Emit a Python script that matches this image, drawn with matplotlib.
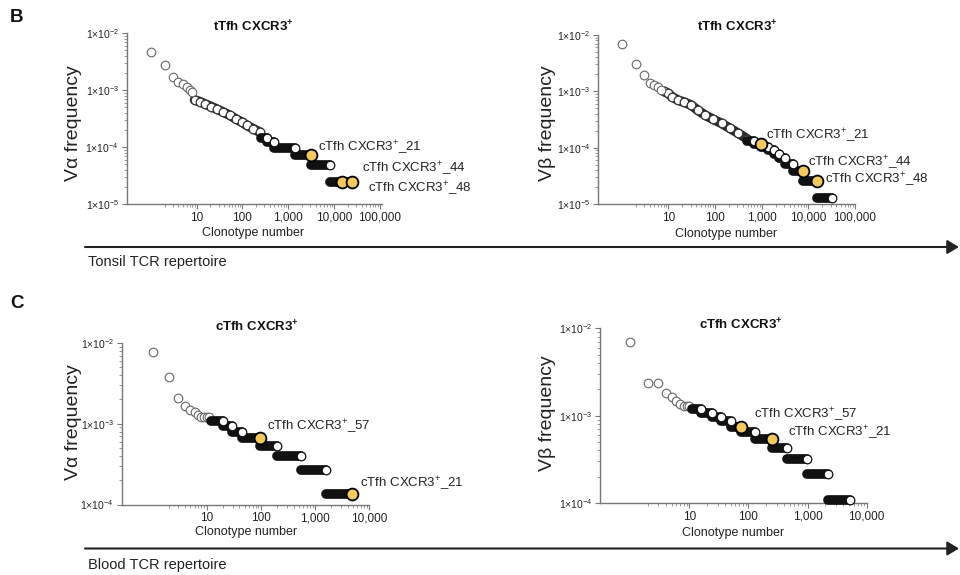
import numpy as np
import matplotlib
matplotlib.use('Agg')
import matplotlib.pyplot as plt
from matplotlib.ticker import FixedLocator, NullFormatter

plt.rcParams['font.family'] = ['Liberation Sans', 'DejaVu Sans']
plt.rcParams['mathtext.fontset'] = 'custom'
plt.rcParams['mathtext.rm'] = 'Liberation Sans'
plt.rcParams['mathtext.it'] = 'Liberation Sans:italic'
plt.rcParams['mathtext.bf'] = 'Liberation Sans:bold'

W, H = 960, 575
YELLOW = '#F3C95B'

# ---- B, left: tonsil tTfh CXCR3+, V alpha
bl_top_rank = [1, 2, 3, 4, 5, 6, 7, 8]
bl_top_freq = [4.7e-3, 2.75e-3, 1.67e-3, 1.4e-3, 1.26e-3, 1.12e-3, 1.0e-3, 9.2e-4]
bl_band_rank = [9, 12, 15, 21, 28, 38, 53, 72, 100, 124, 170, 245]
bl_band_freq = [6.7e-4, 6.2e-4, 5.7e-4, 5.1e-4, 4.6e-4, 4.1e-4, 3.6e-4, 3.1e-4, 2.7e-4, 2.4e-4, 2.1e-4, 1.8e-4]
bl_step_freq = [1.44e-4, 1.2e-4, 9.6e-5, 7.2e-5, 4.8e-5, 2.4e-5]
bl_step_first = [250, 337, 500, 1400, 3200, 8100]
bl_step_last = [337, 500, 1400, 3200, 8100, 25000]
bl_hl_rank = [3200, 14700, 25000]
bl_hl_freq = [7.2e-5, 2.4e-5, 2.4e-5]
bl_hl_label = ['21', '44', '48']

# ---- B, right: tonsil tTfh CXCR3+, V beta
br_top_rank = [1, 2, 3, 4, 5, 6, 7]
br_top_freq = [6.8e-3, 3.0e-3, 1.95e-3, 1.4e-3, 1.3e-3, 1.2e-3, 1.05e-3]
br_band_rank = [8, 10, 12, 16, 22, 31, 43, 61, 90, 139, 210, 316, 480]
br_band_freq = [1.0e-3, 9.2e-4, 8.0e-4, 7.0e-4, 6.4e-4, 5.7e-4, 4.6e-4, 3.8e-4, 3.2e-4, 2.7e-4, 2.2e-4, 1.8e-4, 1.45e-4]
br_step_freq = [1.3e-4, 1.17e-4, 1.04e-4, 9.1e-5, 7.8e-5, 6.5e-5, 5.2e-5, 3.9e-5, 2.6e-5, 1.3e-5]
br_step_first = [480, 700, 950, 1380, 1800, 2300, 3200, 4800, 7800, 15000]
br_step_last = [700, 950, 1380, 1800, 2300, 3200, 4800, 7800, 15000, 32500]
br_hl_rank = [950, 7800, 15000]
br_hl_freq = [1.17e-4, 3.9e-5, 2.6e-5]
br_hl_label = ['21', '44', '48']

# ---- C, left: blood cTfh CXCR3+, V alpha
cl_top_rank = [1, 2, 3, 4, 5, 6, 7, 8, 9, 10, 11]
cl_top_freq = [7.8e-3, 3.8e-3, 2.07e-3, 1.65e-3, 1.5e-3, 1.39e-3, 1.27e-3, 1.2e-3, 1.2e-3, 1.2e-3, 1.2e-3]
cl_step_freq = [1.07e-3, 9.3e-4, 8.0e-4, 6.7e-4, 5.3e-4, 4.0e-4, 2.67e-4, 1.33e-4]
cl_step_first = [12, 20, 29, 44, 95, 200, 560, 1600]
cl_step_last = [20, 29, 44, 95, 200, 560, 1600, 4800]
cl_hl_rank = [95, 4800]
cl_hl_freq = [6.7e-4, 1.33e-4]
cl_hl_label = ['57', '21']

# ---- C, right: blood cTfh CXCR3+, V beta
cr_top_rank = [1, 2, 3, 4, 5, 6, 7, 8, 9, 10]
cr_top_freq = [7.0e-3, 2.38e-3, 2.38e-3, 1.83e-3, 1.62e-3, 1.48e-3, 1.36e-3, 1.29e-3, 1.29e-3, 1.29e-3]
cr_step_freq = [1.18e-3, 1.08e-3, 9.7e-4, 8.6e-4, 7.5e-4, 6.45e-4, 5.4e-4, 4.3e-4, 3.2e-4, 2.15e-4, 1.08e-4]
cr_step_first = [11, 16, 24, 35, 50, 75, 130, 250, 450, 980, 2250]
cr_step_last = [16, 24, 35, 50, 75, 130, 250, 450, 980, 2250, 5200]
cr_hl_rank = [75, 250]
cr_hl_freq = [7.5e-4, 5.4e-4]
cr_hl_label = ['57', '21']

x_tick_vals = [10, 100, 1000, 10000, 100000]
x_tick_text = ['10', '100', '1,000', '10,000', '100,000']

MS = 6.2
BAND_LW = 7.0

fig = plt.figure(figsize=(W / 100, H / 100), dpi=100)

# overlay in pixel coordinates for arrows and free text
bg = fig.add_axes([0, 0, 1, 1])
bg.set_xlim(0, W)
bg.set_ylim(H, 0)
bg.axis('off')


def add_panel(left, right, top, bottom, x1_px, decade_px, ylo, yhi, xhi):
    ax = fig.add_axes([left / W, 1 - bottom / H, (right - left) / W, (bottom - top) / H])
    ax.set_xscale('log')
    ax.set_yscale('log')
    ax.set_xlim(10 ** ((left - x1_px) / decade_px), xhi)
    ax.set_ylim(ylo, yhi)
    ax.patch.set_alpha(0)
    for s in ['top', 'right']:
        ax.spines[s].set_visible(False)
    for s in ['left', 'bottom']:
        ax.spines[s].set_color('#777')
        ax.spines[s].set_linewidth(1.0)
    xt = [v for v in x_tick_vals if v <= xhi * 1.01]
    ax.set_xticks(xt, x_tick_text[:len(xt)])
    xminor = [m * 10 ** e for e in range(0, 6) for m in range(2, 10) if m * 10 ** e < xhi]
    ax.xaxis.set_minor_locator(FixedLocator(xminor))
    ax.xaxis.set_minor_formatter(NullFormatter())
    e_lo, e_hi = int(round(np.log10(ylo))), int(round(np.log10(yhi)))
    yt = [10.0 ** e for e in range(e_lo, e_hi + 1)]
    ax.set_yticks(yt, [r'$1{\times}10^{%d}$' % e for e in range(e_lo, e_hi + 1)])
    yminor = [m * 10.0 ** e for e in range(e_lo, e_hi) for m in range(2, 10)]
    ax.yaxis.set_minor_locator(FixedLocator(yminor))
    ax.yaxis.set_minor_formatter(NullFormatter())
    ax.tick_params(which='major', length=3.5, width=0.8, color='#777', pad=2)
    ax.tick_params(axis='x', which='major', labelsize=8.5, labelcolor='#222')
    ax.tick_params(axis='y', which='major', labelsize=7.5, labelcolor='#222')
    ax.tick_params(which='minor', length=2, width=0.6, color='#888')
    return ax


def draw_data(ax, top_rank, top_freq, band_rank, band_freq, step_freq, step_first, step_last,
              hl_rank, hl_freq, hl_label, offsets):
    if band_rank:
        ax.plot(band_rank, band_freq, color='#2a2a2a', lw=BAND_LW, solid_capstyle='round',
                zorder=2, clip_on=False)
        ax.plot(band_rank, band_freq, 'o', ms=MS, mfc='white', mec='#333', mew=0.9,
                ls='none', zorder=3, clip_on=False)
    ax.plot(top_rank, top_freq, 'o', ms=MS, mfc='white', mec='#666', mew=0.8,
            ls='none', zorder=3, clip_on=False)
    for f, a, b in zip(step_freq, step_first, step_last):
        ax.plot([a, b], [f, f], color='#111', lw=BAND_LW, solid_capstyle='round',
                zorder=4, clip_on=False)
    ax.plot(step_last, step_freq, 'o', ms=MS, mfc='white', mec='#111', mew=0.9,
            ls='none', zorder=5, clip_on=False)
    ax.plot(hl_rank, hl_freq, 'o', ms=8.5, mfc=YELLOW, mec='black', mew=1.3,
            ls='none', zorder=6, clip_on=False)
    for r, f, lab, (dx, dy) in zip(hl_rank, hl_freq, hl_label, offsets):
        ax.annotate(r'cTfh CXCR3$^{+}$_' + lab, xy=(r, f), xytext=(dx, dy),
                    textcoords='offset pixels', ha='left', va='center',
                    fontsize=9.5, color='#222', zorder=7)


# B left
ax1 = add_panel(126.7, 381.7, 33, 204, 150.9, 45.8, 1e-5, 1e-2, 1.1e5)
draw_data(ax1, bl_top_rank, bl_top_freq, bl_band_rank, bl_band_freq,
          bl_step_freq, bl_step_first, bl_step_last,
          bl_hl_rank, bl_hl_freq, bl_hl_label, [(7, 8), (20, 14), (16, -6)])

# B right
ax2 = add_panel(598.3, 855, 35, 204, 621.6, 46.7, 1e-5, 1e-2, 1.0e5)
draw_data(ax2, br_top_rank, br_top_freq, br_band_rank, br_band_freq,
          br_step_freq, br_step_first, br_step_last,
          br_hl_rank, br_hl_freq, br_hl_label, [(5, 9), (5, 9), (8, 2)])

# C left
ax3 = add_panel(121.7, 369.3, 343, 504.5, 152.5, 54.2, 1e-4, 1e-2, 1.0e4)
draw_data(ax3, cl_top_rank, cl_top_freq, [], [],
          cl_step_freq, cl_step_first, cl_step_last,
          cl_hl_rank, cl_hl_freq, cl_hl_label, [(7, 12), (8, 11)])

# C right
ax4 = add_panel(600, 866.7, 328.3, 503, 630.2, 59.1, 1e-4, 1e-2, 1.0e4)
draw_data(ax4, cr_top_rank, cr_top_freq, [], [],
          cr_step_freq, cr_step_first, cr_step_last,
          cr_hl_rank, cr_hl_freq, cr_hl_label, [(13, 13), (16, 7)])

# titles, axis labels, panel letters
title = r'CXCR3$^{\mathbf{+}}$'
for x, y, t in [(253, 27, 'tTfh '), (737, 27, 'tTfh '), (257, 327, 'cTfh '), (741, 325, 'cTfh ')]:
    bg.text(x, y, t + title, ha='center', va='center', fontsize=9.5, fontweight='bold', color='#111')
for x, y in [(253, 233), (726, 234), (246, 532), (733, 533)]:
    bg.text(x, y, 'Clonotype number', ha='center', va='center', fontsize=9, color='#222')
for x, y, t in [(73, 123, 'V\u03b1 frequency'), (547, 123, 'V\u03b2 frequency'),
                (73, 422, 'V\u03b1 frequency'), (547, 413, 'V\u03b2 frequency')]:
    bg.text(x, y, t, ha='center', va='center', rotation=90, fontsize=14, color='#222')
bg.text(10, 18, 'B', ha='left', va='center', fontsize=13.5, fontweight='bold', color='#111')
bg.text(10, 303, 'C', ha='left', va='center', fontsize=13.5, fontweight='bold', color='#111')

# repertoire arrows
for y_line, y_text, lab in [(247, 262, 'Tonsil TCR repertoire'), (548.5, 565, 'Blood TCR repertoire')]:
    bg.annotate('', xy=(959, y_line), xytext=(85, y_line),
                arrowprops=dict(arrowstyle='-|>,head_length=0.5,head_width=0.3', lw=1.5,
                                color='#222', shrinkA=0, shrinkB=0, mutation_scale=14))
    bg.text(88, y_text, lab, ha='left', va='center', fontsize=10.5, color='#222')

fig.savefig('out.png', dpi=100)
